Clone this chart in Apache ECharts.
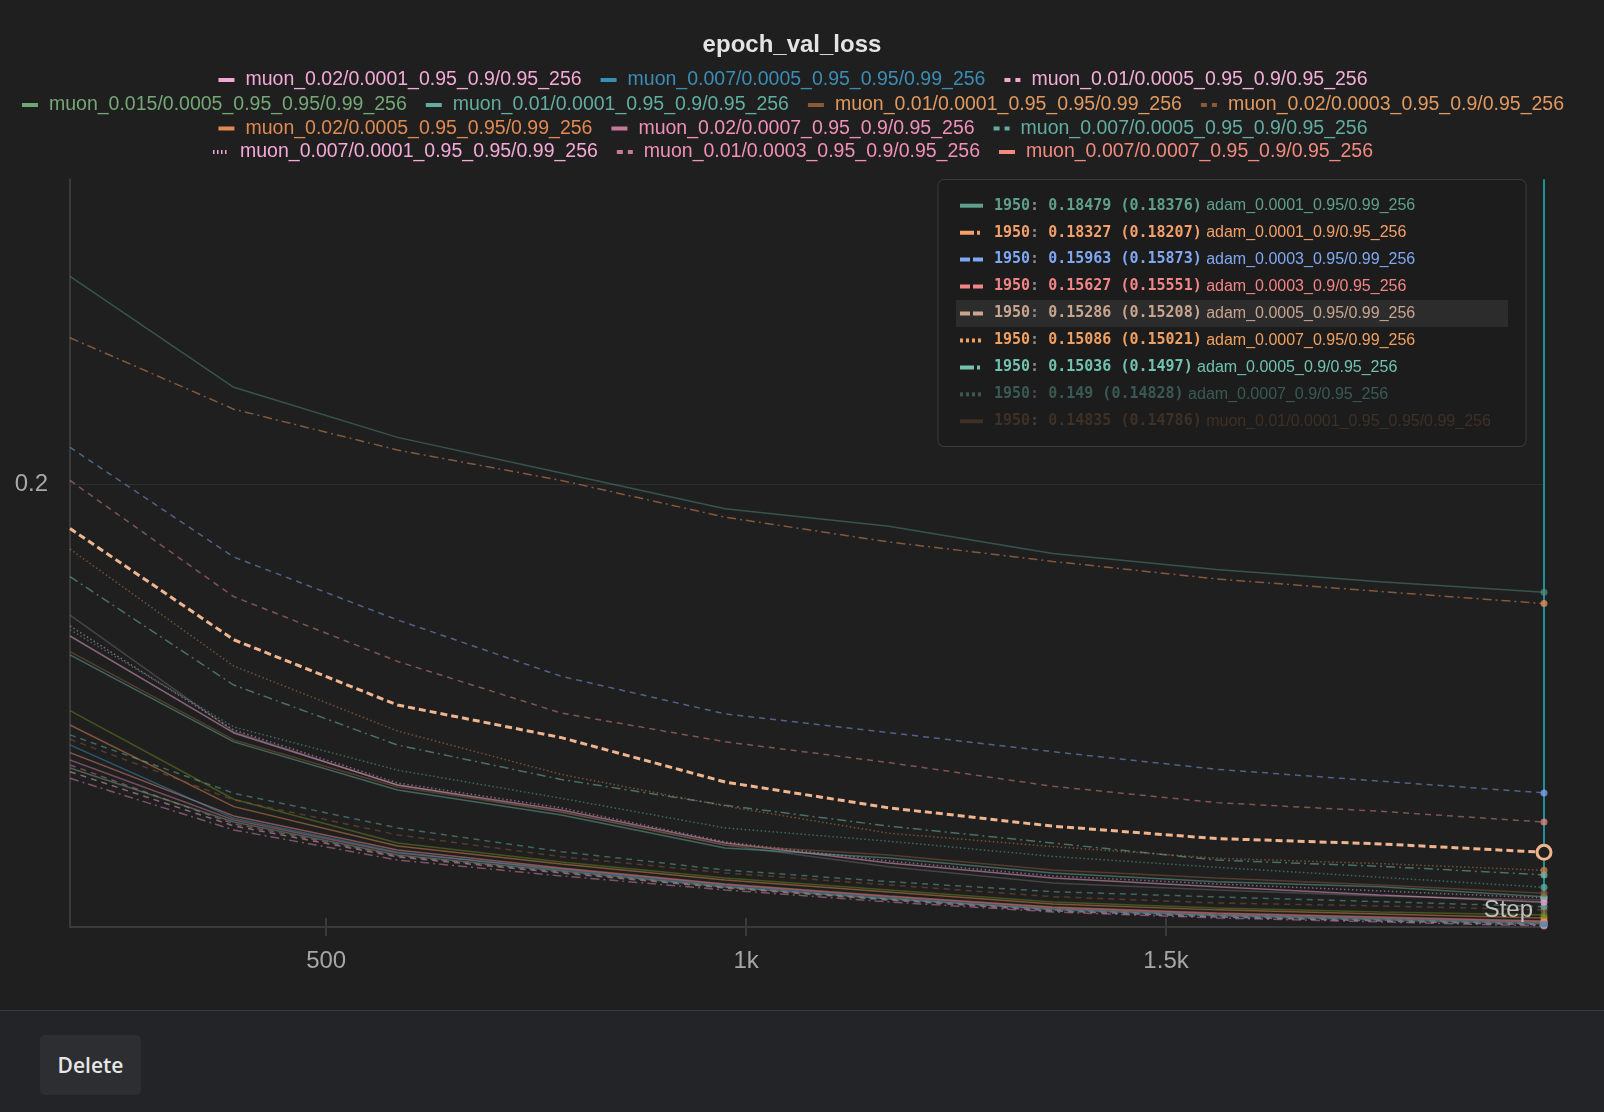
<!DOCTYPE html>
<html><head><meta charset="utf-8">
<script src="https://cdn.jsdelivr.net/npm/echarts@6/dist/echarts.min.js"></script>
<style>
html,body{margin:0;padding:0;background:#1f1f1f;width:1604px;height:1112px;overflow:hidden}
#chart{position:absolute;left:0;top:0;width:1584px;height:1010px}
#sep{position:absolute;left:0;top:1010px;width:1604px;height:1px;background:#3a3a3a}
#foot{position:absolute;left:0;top:1011px;width:1604px;height:101px;background:#232427}
#del{position:absolute;left:40px;top:1035px;width:101px;height:60px;background:#2d2e31;border-radius:5px;color:#e6e6e6;font:600 21px 'Open Sans','Liberation Sans',sans-serif;display:flex;align-items:center;justify-content:center}
</style></head><body>
<div id="chart"></div><div id="sep"></div><div id="foot"></div><div id="del">Delete</div>
<script>
// ---------- data ----------
const steps = [195, 390, 585, 780, 975, 1170, 1365, 1560, 1755, 1950];
const xTicks = [500, 1000, 1500];
const xTickLabels = ['500', '1k', '1.5k'];
const yTicks = [0.2];
const yTickLabels = ['0.2'];

const adam_0_0001_095_099 = [0.2327, 0.2146, 0.2069, 0.2016, 0.1964, 0.1939, 0.1901, 0.1879, 0.1862, 0.18479];
const adam_0_0001_09_095  = [0.2225, 0.2112, 0.2050, 0.2005, 0.1952, 0.1917, 0.1890, 0.1866, 0.1849, 0.18327];
const adam_0_0003_095_099 = [0.2054, 0.1896, 0.1811, 0.1738, 0.1691, 0.1668, 0.1645, 0.1624, 0.1610, 0.15963];
const adam_0_0003_09_095  = [0.2005, 0.1842, 0.1757, 0.1692, 0.1657, 0.1632, 0.1604, 0.1585, 0.1575, 0.15627];
const adam_0_0005_095_099 = [0.1936, 0.1785, 0.1702, 0.1662, 0.1609, 0.1579, 0.1558, 0.1544, 0.1538, 0.15286];
const adam_0_0007_095_099 = [0.1907, 0.1751, 0.1670, 0.1618, 0.1581, 0.1550, 0.1535, 0.1522, 0.1516, 0.15086];
const adam_0_0005_09_095  = [0.1869, 0.1727, 0.1653, 0.1612, 0.1582, 0.1558, 0.1539, 0.1520, 0.1513, 0.15036];
const adam_0_0007_09_095  = [0.1798, 0.1675, 0.1623, 0.1590, 0.1556, 0.1541, 0.1524, 0.1512, 0.1501, 0.14900];

const muon_001_00001_095_095 = [0.17696, 0.16592, 0.16032, 0.15743, 0.15368, 0.15256, 0.15090, 0.15002, 0.14926, 0.14835];
const muon_001_00001_095_09  = [0.17654, 0.16568, 0.15997, 0.15708, 0.15334, 0.15222, 0.15057, 0.14962, 0.14907, 0.14799];
const muon_002_00001_095_09  = [0.17899, 0.16677, 0.16056, 0.15766, 0.15390, 0.15167, 0.15002, 0.14907, 0.14817, 0.14739];
const muon_0007_00001_095_095 = [0.18030, 0.16713, 0.16079, 0.15789, 0.15402, 0.15189, 0.15024, 0.14937, 0.14861, 0.14785];
const other_run_1 = [0.18174, 0.16693, 0.16056, 0.15743, 0.15368, 0.15126, 0.14948, 0.14872, 0.14806, 0.14763];
const muon_0007_00005_095_09  = [0.16653, 0.15959, 0.15560, 0.15293, 0.15090, 0.14962, 0.14853, 0.14796, 0.14745, 0.14692];
const muon_002_00003_095_09   = [0.16600, 0.15881, 0.15481, 0.15237, 0.15057, 0.14926, 0.14799, 0.14731, 0.14699, 0.14657];
const other_run_2 = [0.16950, 0.15889, 0.15390, 0.15178, 0.15002, 0.14872, 0.14742, 0.14678, 0.14635, 0.14603];
const muon_002_00005_095_095  = [0.16774, 0.15804, 0.15357, 0.15156, 0.14980, 0.14850, 0.14720, 0.14657, 0.14614, 0.14571];
const muon_0007_00005_095_095 = [0.16532, 0.15671, 0.15290, 0.15090, 0.14915, 0.14785, 0.14657, 0.14593, 0.14550, 0.14508];
const muon_0007_00007_095_09  = [0.16439, 0.15697, 0.15312, 0.15112, 0.14937, 0.14806, 0.14688, 0.14624, 0.14582, 0.14539];
const muon_002_00007_095_09   = [0.16351, 0.15651, 0.15278, 0.15101, 0.14926, 0.14796, 0.14678, 0.14614, 0.14571, 0.14529];
const muon_0015_00005_095_095 = [0.16256, 0.15628, 0.15256, 0.15079, 0.14904, 0.14774, 0.14667, 0.14603, 0.14561, 0.14518];
const muon_001_00005_095_09   = [0.16212, 0.15583, 0.15234, 0.15057, 0.14893, 0.14763, 0.14646, 0.14582, 0.14539, 0.14497];
const muon_001_00003_095_09   = [0.16292, 0.15606, 0.15245, 0.15068, 0.14904, 0.14774, 0.14657, 0.14593, 0.14550, 0.14508];
const other_run_3 = [0.16134, 0.15537, 0.15200, 0.15024, 0.14872, 0.14742, 0.14635, 0.14571, 0.14529, 0.14486];

const legendRows = [
  ['muon_0.02/0.0001_0.95_0.9/0.95_256', 'muon_0.007/0.0005_0.95_0.95/0.99_256', 'muon_0.01/0.0005_0.95_0.9/0.95_256'],
  ['muon_0.015/0.0005_0.95_0.95/0.99_256', 'muon_0.01/0.0001_0.95_0.9/0.95_256', 'muon_0.01/0.0001_0.95_0.95/0.99_256', 'muon_0.02/0.0003_0.95_0.9/0.95_256'],
  ['muon_0.02/0.0005_0.95_0.95/0.99_256', 'muon_0.02/0.0007_0.95_0.9/0.95_256', 'muon_0.007/0.0005_0.95_0.9/0.95_256'],
  ['muon_0.007/0.0001_0.95_0.95/0.99_256', 'muon_0.01/0.0003_0.95_0.9/0.95_256', 'muon_0.007/0.0007_0.95_0.9/0.95_256']
];

const tipStep = '1950';
const tipNames = ['adam_0.0001_0.95/0.99_256', 'adam_0.0001_0.9/0.95_256', 'adam_0.0003_0.95/0.99_256', 'adam_0.0003_0.9/0.95_256', 'adam_0.0005_0.95/0.99_256', 'adam_0.0007_0.95/0.99_256', 'adam_0.0005_0.9/0.95_256', 'adam_0.0007_0.9/0.95_256', 'muon_0.01/0.0001_0.95_0.95/0.99_256'];
const tipValues = ['0.18479', '0.18327', '0.15963', '0.15627', '0.15286', '0.15086', '0.15036', '0.149', '0.14835'];
const tipSmoothed = ['0.18376', '0.18207', '0.15873', '0.15551', '0.15208', '0.15021', '0.1497', '0.14828', '0.14786'];

// ---------- runs (name -> values) ----------
const runs = [
  ['other_run_3', other_run_3],
  ['muon_0.01/0.0005_0.95_0.9/0.95_256', muon_001_00005_095_09],
  ['muon_0.01/0.0003_0.95_0.9/0.95_256', muon_001_00003_095_09],
  ['muon_0.015/0.0005_0.95_0.95/0.99_256', muon_0015_00005_095_095],
  ['muon_0.02/0.0007_0.95_0.9/0.95_256', muon_002_00007_095_09],
  ['muon_0.007/0.0007_0.95_0.9/0.95_256', muon_0007_00007_095_09],
  ['muon_0.007/0.0005_0.95_0.95/0.99_256', muon_0007_00005_095_095],
  ['muon_0.02/0.0005_0.95_0.95/0.99_256', muon_002_00005_095_095],
  ['other_run_2', other_run_2],
  ['muon_0.02/0.0003_0.95_0.9/0.95_256', muon_002_00003_095_09],
  ['muon_0.007/0.0005_0.95_0.9/0.95_256', muon_0007_00005_095_09],
  ['other_run_1', other_run_1],
  ['muon_0.007/0.0001_0.95_0.95/0.99_256', muon_0007_00001_095_095],
  ['muon_0.02/0.0001_0.95_0.9/0.95_256', muon_002_00001_095_09],
  ['muon_0.01/0.0001_0.95_0.9/0.95_256', muon_001_00001_095_09],
  ['muon_0.01/0.0001_0.95_0.95/0.99_256', muon_001_00001_095_095],
  ['adam_0.0007_0.9/0.95_256', adam_0_0007_09_095],
  ['adam_0.0005_0.9/0.95_256', adam_0_0005_09_095],
  ['adam_0.0007_0.95/0.99_256', adam_0_0007_095_099],
  ['adam_0.0003_0.9/0.95_256', adam_0_0003_09_095],
  ['adam_0.0003_0.95/0.99_256', adam_0_0003_095_099],
  ['adam_0.0001_0.9/0.95_256', adam_0_0001_09_095],
  ['adam_0.0001_0.95/0.99_256', adam_0_0001_095_099],
  ['adam_0.0005_0.95/0.99_256', adam_0_0005_095_099]
];
const highlighted = 'adam_0.0005_0.95/0.99_256';

// ---------- styles ----------
const S = {
  'other_run_3': ['#d58ab2', 'dashdot'],
  'muon_0.01/0.0005_0.95_0.9/0.95_256': ['#f2a9d6', 'dashed', '#f5aed8'],
  'muon_0.01/0.0003_0.95_0.9/0.95_256': ['#c9789a', 'dashed', '#f290b8'],
  'muon_0.015/0.0005_0.95_0.95/0.99_256': ['#6fa672', 'solid', '#74a876'],
  'muon_0.02/0.0007_0.95_0.9/0.95_256': ['#c8789a', 'solid', '#f290b8'],
  'muon_0.007/0.0007_0.95_0.9/0.95_256': ['#f28a80', 'solid', '#f28a80'],
  'muon_0.007/0.0005_0.95_0.95/0.99_256': ['#3b8db5', 'solid', '#3b8db5'],
  'muon_0.02/0.0005_0.95_0.95/0.99_256': ['#e08a52', 'solid', '#e08a52'],
  'other_run_2': ['#6b8a1e', 'solid'],
  'muon_0.02/0.0003_0.95_0.9/0.95_256': ['#8a5a38', 'dashed', '#e09a60'],
  'muon_0.007/0.0005_0.95_0.9/0.95_256': ['#62ada0', 'dashed', '#62ada0'],
  'other_run_1': ['#6a6a6a', 'solid'],
  'muon_0.007/0.0001_0.95_0.95/0.99_256': ['#f2a7d4', 'dotted', '#f5a9d8'],
  'muon_0.02/0.0001_0.95_0.9/0.95_256': ['#f2a7d4', 'solid', '#f5a9d8'],
  'muon_0.01/0.0001_0.95_0.9/0.95_256': ['#62ada0', 'solid', '#62ada0'],
  'muon_0.01/0.0001_0.95_0.95/0.99_256': ['#8a5a38', 'solid', '#e09a60'],
  'adam_0.0007_0.9/0.95_256': ['#5fb0a0', 'dotted'],
  'adam_0.0005_0.9/0.95_256': ['#72c2b0', 'dashdot'],
  'adam_0.0007_0.95/0.99_256': ['#c8844e', 'dotted'],
  'adam_0.0003_0.9/0.95_256': ['#e08a86', 'dashed'],
  'adam_0.0003_0.95/0.99_256': ['#7fa8f2', 'dashed'],
  'adam_0.0001_0.9/0.95_256': ['#e8925a', 'dashdot'],
  'adam_0.0001_0.95/0.99_256': ['#4f8a78', 'solid'],
  'adam_0.0005_0.95/0.99_256': ['#f0b48e', 'dashed']
};
function dashOf(d, hl) {
  if (d === 'solid') return 'solid';
  if (d === 'dashed') return hl ? [7, 4] : [6, 5];
  if (d === 'dotted') return [1.5, 2.5];
  return [9, 4, 2, 4];
}

const series = runs.map(function (r, k) {
  const name = r[0], vals = r[1], st = S[name];
  const hl = name === highlighted;
  const data = steps.map(function (s, i) { return [s, vals[i]]; });
  const s = {
    type: 'line', name: name, data: data, symbol: 'none', showSymbol: false, silent: true,
    z: hl ? 6 : (name.indexOf('adam') === 0 ? 4 : 3),
    lineStyle: { color: st[0], width: hl ? 3 : 1.5, type: dashOf(st[1], hl), opacity: hl ? 1 : 0.5 },
    itemStyle: { color: st[0] },
    emphasis: { disabled: true }, animation: false
  };
  if (k === 0) {
    s.markLine = {
      silent: true, symbol: 'none', z: 1, animation: false,
      data: [{ yAxis: yTicks[0] }],
      lineStyle: { color: '#2e2e2e', width: 1, type: 'solid', opacity: 1 },
      label: { show: true, position: 'start', formatter: yTickLabels[0], color: '#a8a8a8',
               fontSize: 24, fontFamily: 'Liberation Sans', distance: 22 }
    };
  }
  if (hl) {
    s.markLine = {
      silent: true, symbol: 'none', z: 5, animation: false,
      data: [{ xAxis: steps[steps.length - 1] }],
      lineStyle: { color: '#1f8e95', width: 2, type: 'solid', opacity: 1 },
      label: { show: false }
    };
  }
  return s;
});

// hover dots at the last step (built from the same run arrays)
const last = steps.length - 1;
series.push({
  type: 'scatter', name: 'hover_points', silent: true, z: 7, animation: false,
  data: runs.map(function (r) {
    const hl = r[0] === highlighted, c = S[r[0]][0];
    return {
      value: [steps[last], r[1][last]],
      symbol: 'circle', symbolSize: hl ? 14 : 7,
      itemStyle: hl ? { color: '#1f1f1f', borderColor: c, borderWidth: 3, opacity: 1 }
                    : { color: c, opacity: 0.75 }
    };
  })
});

const legendTops = [70, 95, 118.5, 142];
const legends = legendRows.map(function (row, i) {
  return {
    data: row.map(function (n) { return { name: n, textStyle: { color: S[n][2] } }; }),
    top: legendTops[i], left: 'center', padding: 0, itemGap: 17, itemWidth: 16, itemHeight: 4,
    selectedMode: false,
    textStyle: { fontFamily: 'Liberation Sans', fontSize: 19.5, padding: [0, 0, 0, 6] },
    lineStyle: { width: 4, opacity: 1 }, itemStyle: { opacity: 0 }
  };
});

// tooltip-like panel
const tipColors = ['#5fa08c', '#f4a06a', '#7fa8f2', '#f38585', '#c9a590', '#f0a060', '#72c2b0', '#5fb0a0', '#8a5a38'];
const tipOpacity = [1, 1, 1, 1, 1, 1, 1, 0.42, 0.32];
const tipDash = [null, [14, 3, 3, 3], [10, 3], [10, 3], [10, 3], [3, 3], [14, 3, 3, 3], [3, 3], null];
const gfx = [
  { type: 'rect', shape: { x: 938, y: 179.5, width: 588, height: 267, r: 6 },
    style: { fill: '#1c1c1c', stroke: '#3c3c3c', lineWidth: 1 }, z: 10 },
  { type: 'rect', shape: { x: 956, y: 300, width: 552, height: 27 },
    style: { fill: '#2c2c2c' }, z: 11 },
  { type: 'text', x: 1533, y: 910, z: 12,
    style: { text: 'Step', fill: '#c0c0c0', fontSize: 24, fontFamily: 'Liberation Sans', align: 'right', verticalAlign: 'middle' } }
];
tipNames.forEach(function (n, i) {
  const yc = 205.7 + i * 26.95;
  const c = tipColors[i];
  gfx.push({ type: 'line', z: 12, shape: { x1: 960, y1: yc, x2: 983, y2: yc },
    style: { stroke: c, lineWidth: 4, lineDash: tipDash[i], opacity: tipOpacity[i] } });
  gfx.push({ type: 'text', x: 994, y: yc, z: 12,
    style: {
      text: '{n|' + tipStep + '}{c|: }{n|' + tipValues[i] + ' (' + tipSmoothed[i] + ')}{t| ' + n + '}',
      verticalAlign: 'middle', opacity: tipOpacity[i],
      rich: {
        n: { fontFamily: 'DejaVu Sans Mono', fontWeight: 'bold', fontSize: 15, fill: c },
        c: { fontFamily: 'DejaVu Sans Mono', fontWeight: 'bold', fontSize: 15, fill: '#8a8a8a' },
        t: { fontFamily: 'Liberation Sans', fontSize: 16, fill: c }
      }
    } });
});

const chart = echarts.init(document.getElementById('chart'), null, { renderer: 'canvas' });
chart.setOption({
  backgroundColor: '#1f1f1f',
  animation: false,
  title: { text: 'epoch_val_loss', left: 'center', top: 33, padding: 0,
    textStyle: { color: '#e4e4e4', fontFamily: 'Liberation Sans', fontSize: 24, fontWeight: 'bold' } },
  legend: legends,
  grid: { left: 70, right: 40, top: 179.3, bottom: 83 },
  xAxis: [
    { type: 'value', min: steps[0], max: steps[steps.length - 1],
      axisLine: { show: true, lineStyle: { color: '#3a3a3a', width: 2 } },
      axisTick: { show: true, customValues: xTicks, length: 9, lineStyle: { color: '#3a3a3a', width: 2 } },
      axisLabel: { customValues: xTicks, color: '#a6a6a6', fontSize: 24, fontFamily: 'Liberation Sans', margin: 22,
        formatter: function (v) { return xTickLabels[xTicks.indexOf(v)]; } },
      splitLine: { show: false } },
    { type: 'value', min: steps[0], max: steps[steps.length - 1], position: 'bottom',
      axisLine: { show: false },
      axisTick: { show: true, inside: true, customValues: xTicks, length: 9, lineStyle: { color: '#3a3a3a', width: 2 } },
      axisLabel: { show: false }, splitLine: { show: false } }
  ],
  yAxis: { type: 'log', min: 0.14475, max: 0.24977,
    axisLine: { show: true, lineStyle: { color: '#3a3a3a', width: 2 } },
    axisTick: { show: false }, axisLabel: { show: false }, splitLine: { show: false } },
  graphic: { elements: gfx },
  series: series
});
</script>
</body></html>
